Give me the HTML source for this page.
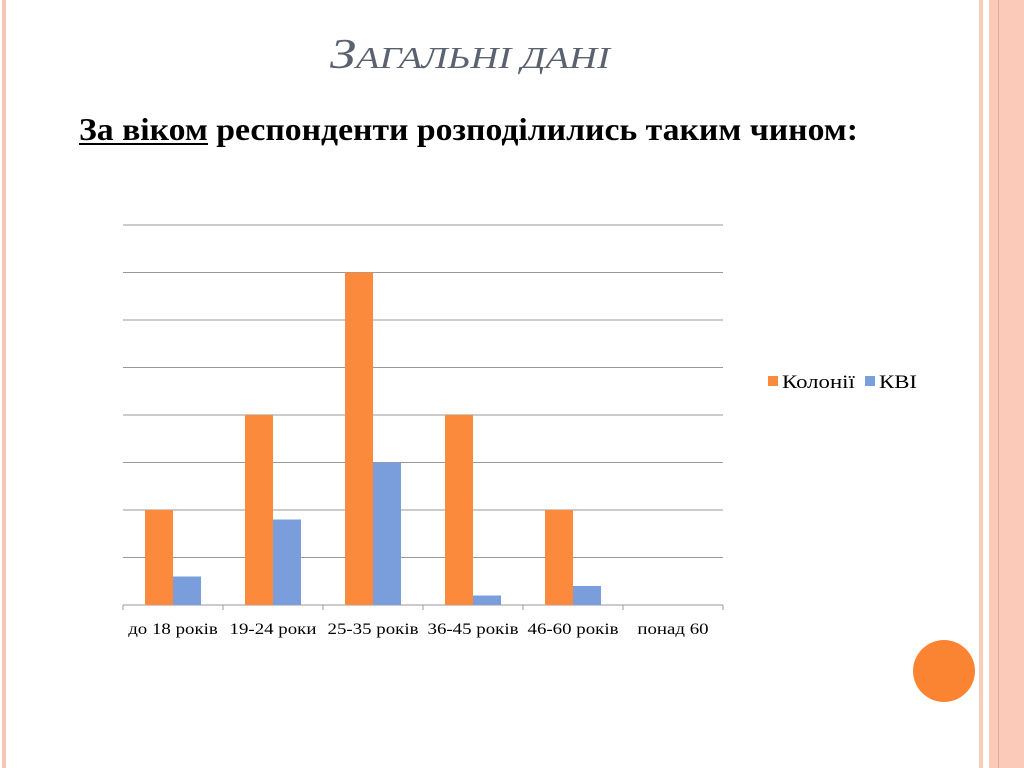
<!DOCTYPE html>
<html><head><meta charset="utf-8">
<style>
body{margin:0;width:1024px;height:768px;background:#fff;position:relative;overflow:hidden;font-family:"Liberation Serif","DejaVu Serif",serif}
.abs{position:absolute}
</style></head>
<body>
<div class="abs" style="left:2px;top:0;width:4px;height:768px;background:#f7c6b6"></div>
<div class="abs" style="left:979px;top:0;width:4px;height:768px;background:#f9cbbb"></div>
<div class="abs" style="left:989px;top:0;width:35px;height:768px;background:#fbcab8"></div>
<div class="abs" style="left:998px;top:0;width:1px;height:768px;background:#e9a98f"></div>
<div class="abs" style="left:913px;top:640px;width:62px;height:62px;border-radius:50%;background:#fb8433"></div>
<svg class="abs" style="left:0;top:0" width="1024" height="768">
<text x="330" y="68" textLength="280" lengthAdjust="spacingAndGlyphs" font-family="Liberation Serif, serif" font-style="italic" font-size="40" fill="#5a6270"><tspan font-size="42">З</tspan><tspan font-size="31">АГАЛЬНІ ДАНІ</tspan></text>
<text x="79" y="140" textLength="779" lengthAdjust="spacingAndGlyphs" font-family="Liberation Serif, serif" font-weight="bold" font-size="32" fill="#000">За віком респонденти розподілились таким чином:</text>
<line x1="79" x2="208" y1="144" y2="144" stroke="#000" stroke-width="2"/>
</svg>
<svg class="abs" style="left:0;top:0" width="1024" height="768" id="chart"></svg>
<script>
const categories=["до 18 років","19-24 роки","25-35 років","36-45 років","46-60 років","понад 60"];
const colonies=[2,4,7,4,2,0];
const kvi=[0.6,1.8,3,0.2,0.4,0];
const yTicks=[0,1,2,3,4,5,6,7,8];
const seriesNames=["Колонії","КВІ"];
const NS="http://www.w3.org/2000/svg";
const svg=document.getElementById('chart');
const x0=123,x1=723,yBase=605,yTop=225,yMax=8;
const y=v=>yBase-(yBase-yTop)*v/yMax;
const bw=(x1-x0)/categories.length;
const xc=i=>x0+bw*i;
function mk(t,a){const e=document.createElementNS(NS,t);for(const k in a)e.setAttribute(k,a[k]);svg.appendChild(e);return e;}
function widen(t,f){const w=t.getComputedTextLength();t.setAttribute('textLength',w*f);t.setAttribute('lengthAdjust','spacingAndGlyphs');}
yTicks.forEach(v=>{if(v===0)return;const l=mk('line',{x1:x0,x2:x1,y1:y(v),y2:y(v),stroke:'#999','stroke-width':1});

});
const ax=mk('line',{x1:x0,x2:x1,y1:yBase,y2:yBase,stroke:'#999','stroke-width':1});


for(let i=0;i<=categories.length;i++){const t=mk('line',{x1:xc(i),x2:xc(i),y1:yBase,y2:yBase+5,stroke:'#999'});

}
categories.forEach((c,i)=>{
const b1=mk('rect',{x:xc(i)+22,y:y(colonies[i]),width:28,height:yBase-y(colonies[i]),fill:'#fb8a3c'});


const b2=mk('rect',{x:xc(i)+50,y:y(kvi[i]),width:28,height:yBase-y(kvi[i]),fill:'#7a9ddb'});


const t=mk('text',{x:xc(i)+bw/2,y:634,'text-anchor':'middle','font-size':16,fill:'#000','font-family':'Liberation Serif, serif'});
t.textContent=c;


widen(t,1.18);
});
const lc=['#fb8a3c','#7a9ddb'],lx=[768,865];
seriesNames.forEach((n,i)=>{
const r=mk('rect',{x:lx[i],y:376,width:10,height:10,fill:lc[i]});


const t=mk('text',{x:lx[i]+14,y:388,'font-size':19,fill:'#000','font-family':'Liberation Serif, serif'});
t.textContent=n;


widen(t,1.2);
});
</script>
</body></html>
